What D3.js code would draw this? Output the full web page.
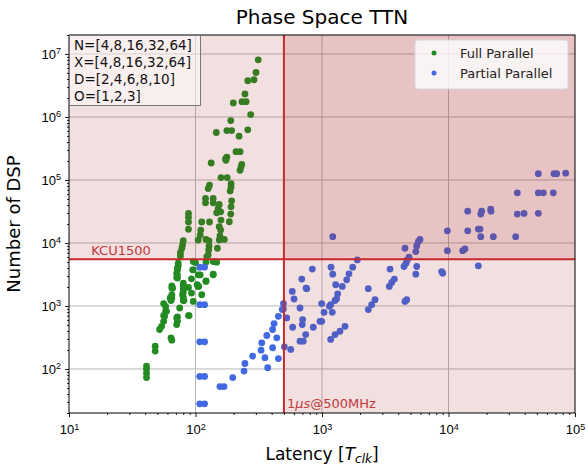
<!DOCTYPE html>
<html>
<head>
<meta charset="utf-8">
<script src="https://cdn.jsdelivr.net/npm/d3@7"></script>
<style>
  body { margin: 0; background: #fff; }
  svg { font-family: "DejaVu Sans", sans-serif; }
</style>
</head>
<body>
<div id="chart"></div>
<script>
// Full Parallel points: [latency, dsp]
const fullParallel = [
  [313, 8.07e6], [301, 5.08e6], [259, 3.76e6], [290, 3.9e6], [246, 2.32e6],
  [199, 1.67e6], [233, 1.75e6], [251, 1.75e6], [273, 1.09e6], [190, 8.77e5],
  [146, 5.67e5], [177, 6.09e5], [193, 6.09e5], [259, 6.25e5], [221, 4.96e5],
  [209, 2.81e5], [225, 2.81e5], [177, 2.31e5], [173, 2.18e5], [133, 1.86e5],
  [232, 1.77e5], [229, 1.6e5], [174, 2.05e5], [225, 1.42e5], [159, 1.09e5],
  [178, 1.09e5], [191, 8.77e4], [191, 7.75e4], [188, 6.7e4], [129, 8.24e4],
  [126, 7.31e4], [120, 5.08e4], [120, 4.33e4], [138, 5.08e4], [138, 4.33e4],
  [154, 4.08e4], [151, 3.53e4], [147, 3.01e4], [158, 3.12e4], [193, 4.66e4],
  [191, 3.74e4], [190, 2.87e4], [185, 2.17e4], [88, 2.94e4], [88, 2.55e4],
  [88, 2.15e4], [88, 1.65e4], [112, 2.15e4], [129, 2.15e4], [159, 2.31e4],
  [154, 1.81e4], [158, 1.6e4], [110, 1.6e4], [109, 1.34e4], [105, 1.11e4],
  [156, 1.29e4], [169, 1.14e4], [154, 1.11e4], [121, 1.14e4], [128, 1.08e4],
  [128, 8970], [127, 7750], [149, 8240], [80, 1.09e4], [79, 9300],
  [78, 8240], [76, 7030], [76, 6230], [126, 6460], [123, 6080],
  [96, 5070], [100, 4890], [143, 5070], [138, 5070], [73, 4330],
  [72, 3740], [96, 3740], [105, 3120], [109, 3120], [72, 3120],
  [72, 2770], [138, 3120], [93, 2700], [121, 2510], [65, 2090],
  [65, 1920], [80, 2170], [80, 1920], [88, 1970], [105, 2040],
  [65, 1510], [65, 1340], [64, 1220], [80, 1640], [80, 1390],
  [80, 1220], [112, 1510], [96, 1180], [56, 1090], [58, 986],
  [75, 929], [58, 822], [56, 703], [72, 670], [89, 703],
  [73, 4780], [72, 3980], [121, 4960], [147, 4960], [71, 3320],
  [71, 2830], [95, 3740], [138, 3200], [121, 2450], [66, 1920],
  [63, 1340], [80, 2310], [80, 1810], [79, 1510], [81, 1220],
  [93, 1600], [103, 2170], [106, 2040], [59, 822], [57, 685],
  [56, 571], [88, 703], [71, 646], [72, 571], [71, 507],
  [54, 476], [52, 423], [64, 312], [65, 286], [48, 230],
  [48, 192], [41, 111], [41, 98.6], [41, 85.2], [41, 72.9]
];

// Partial Parallel points: [latency, dsp]
const partialParallel = [
  [108, 4130], [118, 4130], [108, 1050], [118, 1050], [108, 270],
  [118, 270], [108, 76], [118, 76], [108, 28], [118, 28],
  [156, 52.5], [168, 52.5], [197, 72.9], [242, 92.7], [246, 122],
  [283, 160], [330, 199], [334, 260], [354, 151], [372, 105],
  [366, 340], [407, 217], [407, 423], [418, 525], [439, 312],
  [452, 146], [452, 685], [495, 897], [495, 1090], [504, 225],
  [526, 646], [566, 204], [582, 1700], [601, 1290], [586, 459],
  [670, 929], [692, 2670], [698, 507], [670, 276], [711, 276],
  [748, 1920], [743, 352], [838, 3850], [757, 1880], [485, 875],
  [703, 608], [853, 459], [995, 1090], [1038, 792], [995, 571],
  [964, 571], [1205, 792], [1216, 12600], [1178, 4130], [1216, 3200],
  [1283, 2170], [1330, 1560], [1306, 1300], [1268, 1220], [1172, 1050],
  [1143, 986], [1446, 2040], [1567, 2600], [1634, 3240], [1749, 4130],
  [1901, 5380], [1172, 294], [1268, 352], [1387, 397], [1520, 476],
  [2323, 1880], [2323, 875], [2471, 1050], [2625, 1260], [3451, 3850],
  [3404, 2040], [3556, 2360], [3733, 2670], [4529, 8240], [4529, 1180],
  [4677, 1260], [4447, 4230], [4613, 4780], [4721, 5380], [4874, 5940],
  [5510, 7300], [5607, 8970], [5771, 10500], [5951, 11400], [5607, 4230],
  [5510, 3200], [8835, 3520], [8995, 3320], [9795, 15600], [9795, 7550],
  [12950, 7550], [13490, 8040], [14180, 32000], [14180, 15600], [17210, 16600],
  [17760, 16600], [17990, 12600], [17210, 4330], [18290, 32000], [17990, 28700],
  [21560, 34400], [21680, 32000], [22610, 12600], [33960, 12600], [34990, 62400],
  [34990, 28700], [39540, 29400], [51290, 126000], [51290, 62400], [56150, 62400],
  [51290, 29500], [67330, 62400], [68230, 126000], [71610, 126000], [84370, 128000]
];

const paramLines = ["N=[4,8,16,32,64]", "X=[4,8,16,32,64]", "D=[2,4,6,8,10]", "O=[1,2,3]"];
const legendNames = ["Full Parallel", "Partial Parallel"];
const xMajor = [1e1, 1e2, 1e3, 1e4, 1e5];
const yMajor = [1e2, 1e3, 1e4, 1e5, 1e6, 1e7];
const dspLimit = 5520;      // KCU1500
const latencyLimit = 500;   // 1us @ 500MHz

const width = 588, height = 468;
const margin = { top: 35, right: 13, bottom: 55, left: 69 };
const green = "#228b22", blue = "#4169e1", limitRed = "#c9282d";

const svg = d3.select("#chart").append("svg")
  .attr("width", width).attr("height", height);

const x = d3.scaleLog().domain([10, 1e5]).range([margin.left, width - margin.right]);
const y = d3.scaleLog().domain([20, 2e7]).range([height - margin.bottom, margin.top]);

const x0 = margin.left, x1 = width - margin.right;
const y0 = margin.top, y1 = height - margin.bottom;

// minor tick values
const minorOf = (lo, hi) => {
  const out = [];
  for (let e = Math.floor(Math.log10(lo)); e <= Math.ceil(Math.log10(hi)); e++)
    for (let m = 2; m <= 9; m++) {
      const v = m * Math.pow(10, e);
      if (v >= lo && v <= hi) out.push(v);
    }
  return out;
};

// grid
svg.append("g").selectAll("line").data(xMajor.slice(1, -1)).join("line")
  .attr("x1", d => x(d)).attr("x2", d => x(d)).attr("y1", y0).attr("y2", y1)
  .attr("stroke", "#b0b0b0").attr("stroke-width", 0.9);
svg.append("g").selectAll("line").data(yMajor).join("line")
  .attr("x1", x0).attr("x2", x1).attr("y1", d => y(d)).attr("y2", d => y(d))
  .attr("stroke", "#b0b0b0").attr("stroke-width", 0.9);

// points
svg.append("g").selectAll("circle").data(fullParallel).join("circle")
  .attr("cx", d => x(d[0])).attr("cy", d => y(d[1])).attr("r", 3.4).attr("fill", green);
svg.append("g").selectAll("circle").data(partialParallel).join("circle")
  .attr("cx", d => x(d[0])).attr("cy", d => y(d[1])).attr("r", 3.4).attr("fill", blue);

// shaded regions beyond limits
svg.append("rect")
  .attr("x", x0).attr("y", y0).attr("width", x1 - x0).attr("height", y(dspLimit) - y0)
  .attr("fill", "#a52a2a").attr("opacity", 0.15);
svg.append("rect")
  .attr("x", x(latencyLimit)).attr("y", y0).attr("width", x1 - x(latencyLimit)).attr("height", y1 - y0)
  .attr("fill", "#a52a2a").attr("opacity", 0.15);

// limit lines
svg.append("line")
  .attr("x1", x0).attr("x2", x1).attr("y1", y(dspLimit)).attr("y2", y(dspLimit))
  .attr("stroke", limitRed).attr("stroke-width", 2);
svg.append("line")
  .attr("x1", x(latencyLimit)).attr("x2", x(latencyLimit)).attr("y1", y0).attr("y2", y1)
  .attr("stroke", limitRed).attr("stroke-width", 2);

svg.append("text")
  .attr("x", x(15)).attr("y", y(dspLimit) - 4)
  .attr("font-size", 13).attr("fill", "#c0393c").text("KCU1500");

const lim = svg.append("text")
  .attr("x", x(latencyLimit) + 3).attr("y", y1 - 5)
  .attr("font-size", 13).attr("fill", "#c0393c");
lim.append("tspan").text("1");
lim.append("tspan").attr("font-style", "italic").text("μs");
lim.append("tspan").text("@500MHz");

// axes
const styleAxis = g => {
  g.select(".domain").remove();
  g.selectAll(".tick line").attr("stroke", "#000").attr("stroke-width", 0.9);
};
const supLabels = g => {
  g.selectAll(".tick text").each(function (d) {
    const t = d3.select(this).text(null).attr("fill", "#000").attr("font-size", 13);
    t.append("tspan").text("10");
    t.append("tspan").attr("dy", "-0.5em").attr("font-size", 9).text(Math.round(Math.log10(d)));
  });
};

svg.append("g").attr("transform", `translate(0,${y1})`)
  .call(d3.axisBottom(x).tickValues(xMajor).tickSize(4).tickPadding(8))
  .call(styleAxis).call(supLabels);
svg.append("g").attr("transform", `translate(0,${y1})`)
  .call(d3.axisBottom(x).tickValues(minorOf(10, 1e5)).tickSize(2).tickFormat(""))
  .call(styleAxis);
svg.append("g").attr("transform", `translate(${x0},0)`)
  .call(d3.axisLeft(y).tickValues(yMajor).tickSize(4).tickPadding(4))
  .call(styleAxis).call(supLabels);
svg.append("g").attr("transform", `translate(${x0},0)`)
  .call(d3.axisLeft(y).tickValues(minorOf(20, 2e7)).tickSize(2).tickFormat(""))
  .call(styleAxis);

// frame
svg.append("rect")
  .attr("x", x0).attr("y", y0).attr("width", x1 - x0).attr("height", y1 - y0)
  .attr("fill", "none").attr("stroke", "#000").attr("stroke-width", 1);

// titles
svg.append("text").attr("x", (x0 + x1) / 2).attr("y", 24)
  .attr("text-anchor", "middle").attr("font-size", 20).text("Phase Space TTN");

const xl = svg.append("text").attr("x", (x0 + x1) / 2).attr("y", 460)
  .attr("text-anchor", "middle").attr("font-size", 17);
xl.append("tspan").text("Latency [");
xl.append("tspan").attr("font-style", "italic").text("T");
xl.append("tspan").attr("font-style", "italic").attr("font-size", 12).attr("dy", 3).text("clk");
xl.append("tspan").attr("dy", -3).text("]");

svg.append("text")
  .attr("transform", `translate(20,${(y0 + y1) / 2}) rotate(-90)`)
  .attr("text-anchor", "middle").attr("font-size", 18).text("Number of DSP");

// parameter box
const box = svg.append("g");
box.append("rect")
  .attr("x", x0 + 0.5).attr("y", y0 + 0.5).attr("width", 131).attr("height", 70)
  .attr("fill", "#fff").attr("fill-opacity", 0.5)
  .attr("stroke", "#777").attr("stroke-width", 1);
box.selectAll("text").data(paramLines).join("text")
  .attr("x", x0 + 5).attr("y", (d, i) => y0 + 15 + i * 17)
  .attr("font-size", 13.5).attr("fill", "#111").text(d => d);

// legend
const leg = svg.append("g").attr("transform", "translate(415,40)");
leg.append("rect")
  .attr("width", 153).attr("height", 49).attr("rx", 3)
  .attr("fill", "#fff").attr("fill-opacity", 0.8)
  .attr("stroke", "#d8d8d8").attr("stroke-width", 1);
const legRows = leg.selectAll("g").data(legendNames).join("g")
  .attr("transform", (d, i) => `translate(0,${13 + i * 20})`);
legRows.append("circle").attr("cx", 19).attr("cy", 0).attr("r", 2.5)
  .attr("fill", (d, i) => i === 0 ? green : blue);
legRows.append("text").attr("x", 45).attr("y", 5)
  .attr("font-size", 13).attr("fill", "#222").text(d => d);
</script>
</body>
</html>
